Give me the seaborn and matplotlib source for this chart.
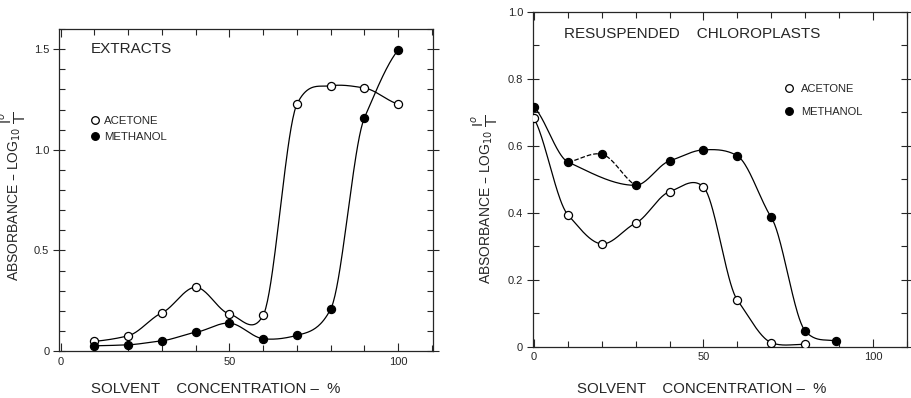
import numpy as np
import pandas as pd
import seaborn as sns
import matplotlib.pyplot as plt
from matplotlib.lines import Line2D
from matplotlib.ticker import MultipleLocator

# Left panel: extracts
ext_conc = [10, 20, 30, 40, 50, 60, 70, 80, 90, 100]
ext_acetone = [0.048, 0.076, 0.19, 0.317, 0.184, 0.178, 1.227, 1.318, 1.307, 1.227]
ext_methanol = [0.026, 0.031, 0.051, 0.093, 0.139, 0.061, 0.078, 0.209, 1.16, 1.496]

# Right panel: resuspended chloroplasts
chl_conc_ac = [0, 10, 20, 30, 40, 50, 60, 70, 80]
chl_acetone = [0.682, 0.394, 0.307, 0.369, 0.463, 0.477, 0.139, 0.012, 0.007]
chl_conc_me = [0, 10, 20, 30, 40, 50, 60, 70, 80, 89]
chl_methanol = [0.716, 0.552, 0.575, 0.482, 0.555, 0.588, 0.570, 0.386, 0.047, 0.017]

x_ticks = [0, 50, 100]
ext_yticks = [0, 0.5, 1.0, 1.5]
ext_ylabels = ["0", "0.5", "1.0", "1.5"]
chl_yticks = [0, 0.2, 0.4, 0.6, 0.8, 1.0]
chl_ylabels = ["0", "0.2", "0.4", "0.6", "0.8", "1.0"]

XLABEL = "SOLVENT    CONCENTRATION \u2013  %"
YLABEL = "ABSORBANCE \u2013 LOG$_{10}$ $\\dfrac{\\mathrm{I}^{o}}{\\mathrm{I}}$"


def smooth(x, y, tension=0.6, n=40):
    """Cardinal (hermite) curve through the measured points, for drawing only."""
    x = np.asarray(x, float)
    y = np.asarray(y, float)
    m = np.empty_like(y)
    m[1:-1] = (y[2:] - y[:-2]) / (x[2:] - x[:-2])
    m[0] = (y[1] - y[0]) / (x[1] - x[0])
    m[-1] = (y[-1] - y[-2]) / (x[-1] - x[-2])
    m *= tension
    xs, ys = [], []
    for i in range(len(x) - 1):
        h = x[i + 1] - x[i]
        t = np.linspace(0, 1, n, endpoint=(i == len(x) - 2))
        h00 = 2 * t**3 - 3 * t**2 + 1
        h10 = t**3 - 2 * t**2 + t
        h01 = -2 * t**3 + 3 * t**2
        h11 = t**3 - t**2
        xs.append(x[i] + t * h)
        ys.append(h00 * y[i] + h10 * h * m[i] + h01 * y[i + 1] + h11 * h * m[i + 1])
    return np.concatenate(xs), np.concatenate(ys)


def draw_curve(ax, x, y, dashed=False, **kw):
    xs, ys = smooth(x, y, **kw)
    sns.lineplot(x=xs, y=ys, ax=ax, color="black", lw=0.9, sort=False,
                 estimator=None, linestyle="--" if dashed else "-")
    return xs, ys


def draw_points(ax, x, y, filled):
    sns.scatterplot(x=x, y=y, ax=ax, marker="o", s=34,
                    facecolor="black" if filled else "white",
                    edgecolor="black", linewidth=0.9, zorder=4)


def style_axes(ax, yticks, ylabels, ylim):
    ax.set_xlim(-0.5, 110.3)
    ax.set_ylim(*ylim)
    ax.set_xticks(x_ticks)
    ax.set_xticklabels([str(v) for v in x_ticks])
    ax.xaxis.set_minor_locator(MultipleLocator(10))
    ax.set_yticks(yticks)
    ax.set_yticklabels(ylabels)
    ax.yaxis.set_minor_locator(MultipleLocator(0.1))
    ax.tick_params(axis="x", which="both", direction="in", top=True,
                   labelsize=8, pad=4, width=0.8)
    ax.tick_params(axis="x", which="major", length=6)
    ax.tick_params(axis="x", which="minor", length=4)
    ax.tick_params(axis="y", which="major", direction="inout", length=8,
                   right=True, labelsize=8, pad=3, width=0.8)
    ax.tick_params(axis="y", which="minor", direction="in", length=4,
                   right=True, width=0.8)
    for s in ax.spines.values():
        s.set_linewidth(0.9)
    ax.set_xlabel(XLABEL, fontsize=10.8)
    ax.set_ylabel(YLABEL, fontsize=10)


sns.set_style("ticks")
plt.rcParams["font.family"] = ["Liberation Sans", "DejaVu Sans"]

fig = plt.figure(figsize=(9.11, 3.98), dpi=100)
ax1 = fig.add_axes([0.0648, 0.118, 0.4105, 0.809])
ax2 = fig.add_axes([0.585, 0.129, 0.4105, 0.841])

# ---- left: extracts
draw_curve(ax1, ext_conc, ext_acetone)
draw_curve(ax1, ext_conc, ext_methanol)
draw_points(ax1, ext_conc, ext_acetone, filled=False)
draw_points(ax1, ext_conc, ext_methanol, filled=True)
style_axes(ax1, ext_yticks, ext_ylabels, (0, 1.6))
ax1.text(9, 1.5, "EXTRACTS", fontsize=11, va="center", ha="left")
ax1.xaxis.set_label_coords(0.42, -0.097)
ax1.yaxis.set_label_coords(-0.08, 0.48)

handles = [
    Line2D([], [], marker="o", ls="", mfc="white", mec="black", ms=5.5, mew=0.9),
    Line2D([], [], marker="o", ls="", mfc="black", mec="black", ms=5.5, mew=0.9),
]
ax1.legend(handles, ["ACETONE", "METHANOL"], loc="upper left",
           bbox_to_anchor=(0.08, 0.73), frameon=False, fontsize=8.2,
           handlelength=1.0, handletextpad=0.3, labelspacing=0.5,
           borderpad=0, borderaxespad=0)

# ---- right: resuspended chloroplasts
draw_curve(ax2, chl_conc_ac, chl_acetone)
solid_x = [v for i, v in enumerate(chl_conc_me) if i != 2]
solid_y = [v for i, v in enumerate(chl_methanol) if i != 2]
draw_curve(ax2, solid_x, solid_y)
draw_curve(ax2, chl_conc_me[1:4], chl_methanol[1:4], dashed=True)
draw_points(ax2, chl_conc_ac, chl_acetone, filled=False)
draw_points(ax2, chl_conc_me, chl_methanol, filled=True)
style_axes(ax2, chl_yticks, chl_ylabels, (0, 1.0))
ax2.set_xlim(-0.3, 110)
ax2.text(9, 0.935, "RESUSPENDED    CHLOROPLASTS", fontsize=11, va="center", ha="left")
ax2.xaxis.set_label_coords(0.45, -0.105)
ax2.yaxis.set_label_coords(-0.085, 0.44)
ax2.legend(handles, ["ACETONE", "METHANOL"], loc="upper left",
           bbox_to_anchor=(0.67, 0.785), frameon=False, fontsize=8,
           handlelength=1.0, handletextpad=0.6, labelspacing=1.2,
           borderpad=0, borderaxespad=0)

fig.savefig("out.png", dpi=100)
